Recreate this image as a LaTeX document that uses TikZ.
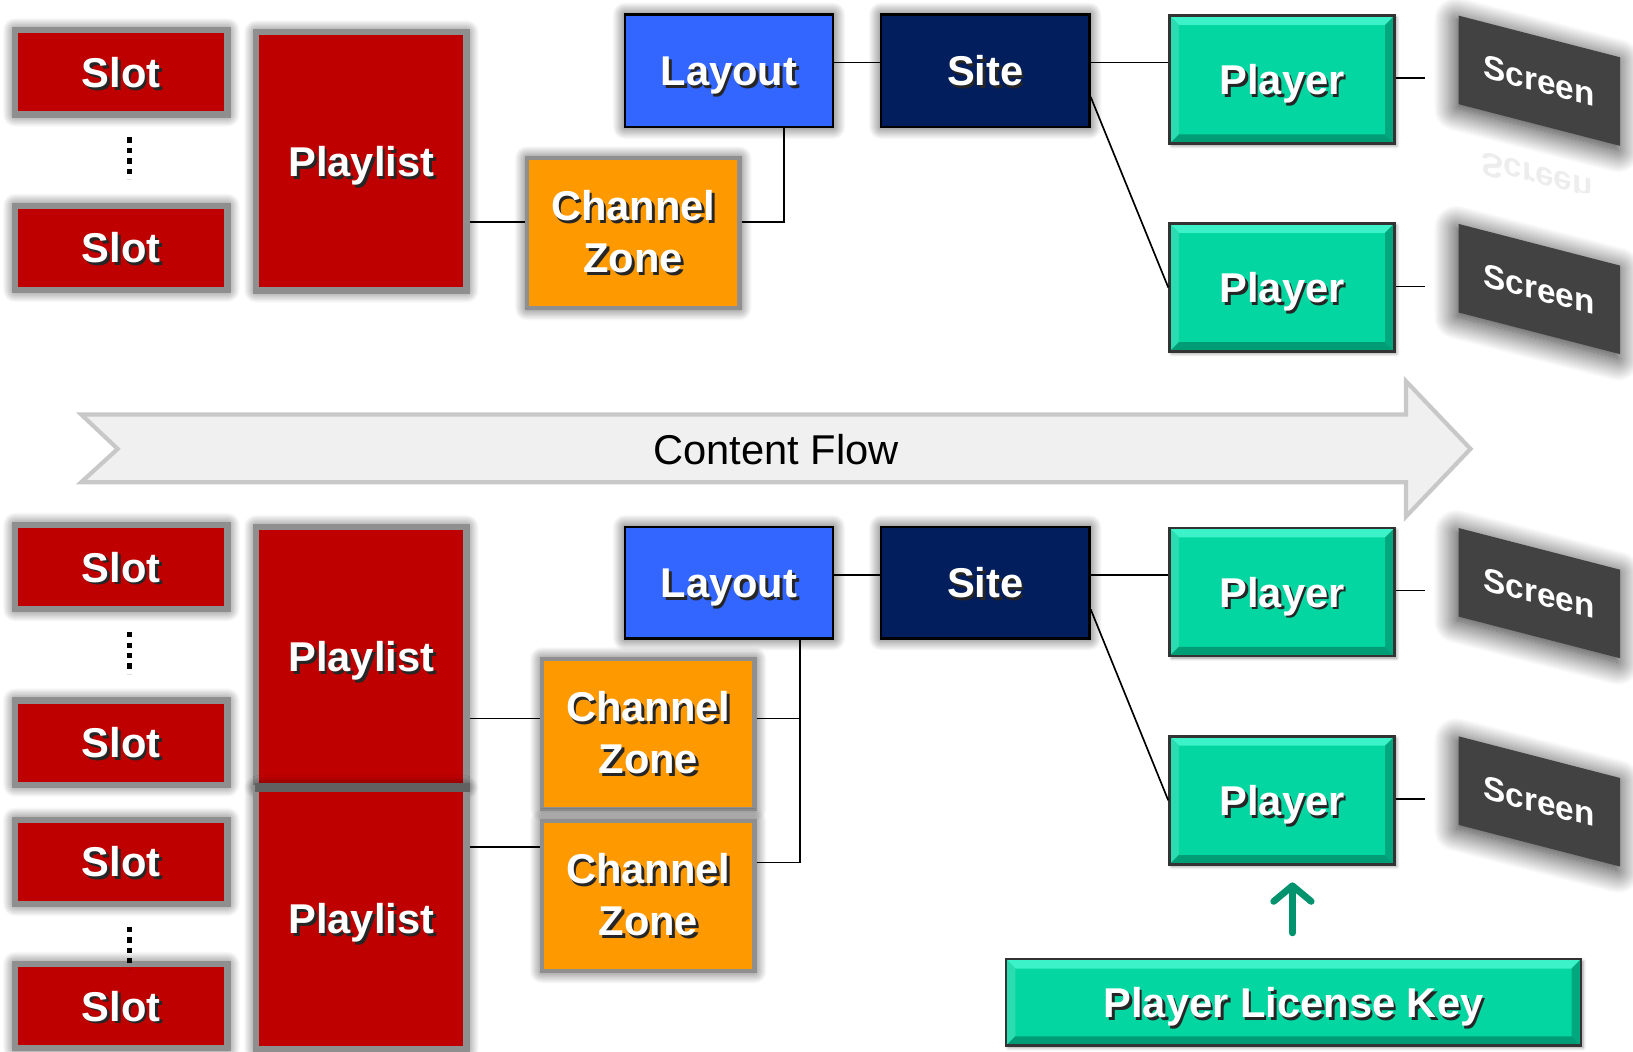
\documentclass[tikz,border=0pt]{standalone}
\usepackage{fontspec}
\setmainfont{Liberation Sans}
\usetikzlibrary{shadows.blur,arrows.meta,calc}
\definecolor{cred}{HTML}{BE0000}
\definecolor{cborder}{HTML}{8F8F8F}
\definecolor{cblue}{HTML}{3366FF}
\definecolor{cnavy}{HTML}{021E5C}
\definecolor{corange}{HTML}{FF9900}
\definecolor{cteal}{HTML}{04D6A2}
\definecolor{ctealL}{HTML}{3CF2C8}
\definecolor{ctealD}{HTML}{009C76}
\definecolor{cscreen}{HTML}{424242}
\definecolor{cgreen}{HTML}{00936E}
\definecolor{cflow}{HTML}{F0F0F0}
\definecolor{cflowb}{HTML}{C8C8C8}
\newcommand\shd[1]{\leavevmode\rlap{\kern2.5pt\raisebox{-2.5pt}{\color{black!85}#1}}#1}
\tikzset{
  base/.style={text=white, font=\fontsize{40}{50}\selectfont\bfseries, align=center, inner sep=0pt},
  oneline/.style={text height=29pt, text depth=0pt},
  glow/.style={blur shadow={shadow xshift=0pt, shadow yshift=0pt, shadow scale=1.0, shadow blur radius=12pt, shadow blur steps=16, shadow opacity=75}},
  redbox/.style={base, oneline, glow, fill=cred, draw=cborder, line width=6pt},
  slotbox/.style={redbox, minimum width=204pt, minimum height=81pt},
  plbox/.style={redbox, minimum width=202pt},
  czbox/.style={base, glow, fill=corange, draw=cborder, line width=4pt, minimum width=204pt, minimum height=144pt},
  laybox/.style={base, oneline, glow, fill=cblue, draw=black, line width=2.5pt, minimum width=200pt, minimum height=108pt},
  sitebox/.style={base, oneline, glow, fill=cnavy, draw=black, line width=2.5pt, minimum width=200pt, minimum height=108pt},
  bevel/.style={base, oneline, fill=cteal, draw=black!80, line width=2.5pt,
    blur shadow={shadow xshift=2pt, shadow yshift=-2pt, shadow blur radius=3pt, shadow opacity=40},
    path picture={
      \fill[ctealL] (path picture bounding box.north west) -- (path picture bounding box.north east)
        -- ([xshift=-9pt,yshift=-9pt]path picture bounding box.north east)
        -- ([xshift=9pt,yshift=-9pt]path picture bounding box.north west) -- cycle;
      \fill[cteal!85!white] (path picture bounding box.north west) -- ([xshift=9pt,yshift=-9pt]path picture bounding box.north west)
        -- ([xshift=9pt,yshift=9pt]path picture bounding box.south west) -- (path picture bounding box.south west) -- cycle;
      \fill[ctealD] (path picture bounding box.south west) -- (path picture bounding box.south east)
        -- ([xshift=-9pt,yshift=9pt]path picture bounding box.south east)
        -- ([xshift=9pt,yshift=9pt]path picture bounding box.south west) -- cycle;
      \fill[ctealD!80!cteal] (path picture bounding box.north east) -- ([xshift=-9pt,yshift=-9pt]path picture bounding box.north east)
        -- ([xshift=-9pt,yshift=9pt]path picture bounding box.south east) -- (path picture bounding box.south east) -- cycle;
    }},
  playerbox/.style={bevel, minimum width=216pt, minimum height=123pt},
  screenbox/.style={text=white, font=\fontsize{32}{36}\selectfont\bfseries, inner sep=0pt,
    fill=cscreen, yslant=-0.258, minimum width=155pt, minimum height=85pt,
    blur shadow={shadow xshift=-2pt, shadow yshift=-4pt, shadow blur radius=22pt, shadow blur steps=24, shadow opacity=85}},
  link/.style={draw=black, line width=1.6pt},
  dotline/.style={draw=black, line width=5pt, dash pattern=on 5pt off 5pt},
  keyarrow/.style={draw=cgreen, line width=6.5pt, -{Straight Barb[length=15pt,width=36pt,round]}, line cap=round},
  flowarrow/.style={fill=cflow, draw=cflowb, line width=4pt, line join=miter}
}
\begin{document}
\begin{tikzpicture}[x=1pt,y=-1pt]
\useasboundingbox (0,0) rectangle (1568,1010);

% ---------- content flow arrow ----------
\draw[flowarrow] (78,398) -- (1350,398) -- (1350,366) -- (1412,431) -- (1350,496) -- (1350,463) -- (78,463) -- (113,431) -- cycle;
\node[font=\fontsize{40}{48}\selectfont, text=black] (flow) at (745,432) {Content Flow};

% ---------- top group ----------
\node[slotbox] (s1) at (116.5,69.5) {\shd{Slot}};
\node[slotbox] (s2) at (116.5,238) {\shd{Slot}};
\draw[dotline] (124,132) -- (124,172);
\node[plbox, minimum height=248pt] (pl1) at (347,155) {\shd{Playlist}};
\node[czbox] (cz1) at (608,224) {\shd{Channel}\\\shd{Zone}};
\node[laybox] (lay1) at (700,68) {\shd{Layout}};
\node[sitebox] (site1) at (946,68) {\shd{Site}};
\node[playerbox] (p1) at (1231,76.5) {\shd{Player}};
\node[playerbox] (p2) at (1231,276) {\shd{Player}};

% reflection of first screen
\begin{scope}
\clip (1380,142) rectangle (1568,185);
\node[font=\fontsize{32}{36}\selectfont\bfseries, text=black!7, cm={1,-0.258,0,-1,(0,0)}] (refl) at (1476,170) {Screen};
\end{scope}
\node[screenbox] (sc1) at (1478,77.5) {Screen};
\node[screenbox] (sc2) at (1478,277.5) {Screen};

\coordinate (e1) at (1368,75);
\coordinate (e2) at (1368,275);
\draw[link] (pl1.east |- 0,213) -- (cz1.west |- 0,213);
\draw[link] (cz1.east |- 0,213) -| ([xshift=53pt]lay1.south);
\draw[link] (lay1.east |- 0,60) -- (site1.west |- 0,60);
\draw[link] (site1.east |- 0,60) -- (p1.west |- 0,60);
\draw[link] (site1.east |- 0,93) -- (p2.west);
\draw[link] (p1.east |- e1) -- (e1);
\draw[link] (p2.east |- e2) -- (e2);

% ---------- bottom group ----------
\node[slotbox] (s3) at (116.5,544.5) {\shd{Slot}};
\node[slotbox] (s4) at (116.5,713) {\shd{Slot}};
\node[slotbox] (s5) at (116.5,827.5) {\shd{Slot}};
\node[slotbox] (s6) at (116.5,966) {\shd{Slot}};
\draw[dotline] (124,607) -- (124,647);
\draw[dotline] (124,890) -- (124,930);
\node[plbox, minimum height=249pt] (pl3) at (347,630.5) {\shd{Playlist}};
\node[plbox, minimum height=250pt] (pl4) at (347,882) {\shd{Playlist}};
\fill[black!62] (245,752) rectangle (451,760);
\node[czbox] (cz3) at (622.5,705) {\shd{Channel}\\\shd{Zone}};
\node[czbox] (cz4) at (622.5,860.5) {\shd{Channel}\\\shd{Zone}};
\node[laybox, minimum height=107pt] (lay2) at (700,559.5) {\shd{Layout}};
\node[sitebox, minimum height=107pt] (site2) at (946,559.5) {\shd{Site}};
\node[playerbox] (p3) at (1231,568.5) {\shd{Player}};
\node[playerbox] (p4) at (1231,768.5) {\shd{Player}};
\node[screenbox] (sc3) at (1478,569.5) {Screen};
\node[screenbox] (sc4) at (1478,769.5) {Screen};
\node[bevel, minimum width=552pt, minimum height=83pt] (plk) at (1242,962.5) {\shd{Player License Key}};

\coordinate (e3) at (1368,567);
\coordinate (e4) at (1368,767);
\draw[link] (pl3.east |- 0,690) -- (cz3.west |- 0,690);
\draw[link] (pl4.east |- 0,813) -- (cz4.west |- 0,813);
\draw[link] (cz3.east |- 0,690) -- (768,690);
\draw[link] (cz4.east |- 0,828) -| ([xshift=68pt]lay2.south);
\draw[link] (lay2.east |- 0,552) -- (site2.west |- 0,552);
\draw[link] (site2.east |- 0,552) -- (p3.west |- 0,552);
\draw[link] (site2.east |- 0,585) -- (p4.west);
\draw[link] (p3.east |- e3) -- (e3);
\draw[link] (p4.east |- e4) -- (e4);
\draw[keyarrow, shorten <=24pt, shorten >=16pt] (plk.north -| 1241,0) -- (p4.south -| 1241,0);
\end{tikzpicture}
\end{document}
